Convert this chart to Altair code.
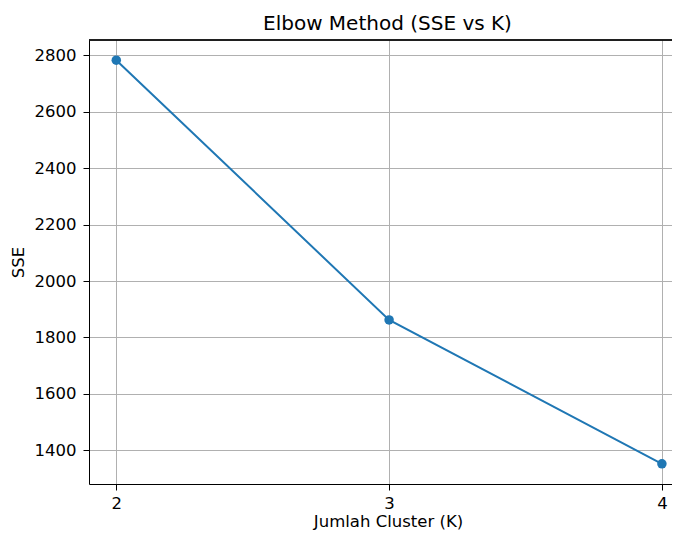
import altair as alt
import pandas as pd

k_values = [2, 3, 4]
sse_values = [2783, 1862, 1352]
x_ticks = [2, 3, 4]
y_ticks = [1400, 1600, 1800, 2000, 2200, 2400, 2600, 2800]

df = pd.DataFrame({"K": k_values, "SSE": sse_values})

W = 583
H = 444
FONT = "DejaVu Sans"
BLUE = "#1f77b4"
FS = 16.5

x_enc = alt.X(
    "K:Q",
    scale=alt.Scale(domain=[1.9, 4.037], nice=False, zero=False),
    axis=alt.Axis(
        values=x_ticks, format="d", title="Jumlah Cluster (K)", labelPadding=5,
        titleX=299, titleY=42, titleBaseline="alphabetic", titleAlign="center",
    ),
)
y_enc = alt.Y(
    "SSE:Q",
    scale=alt.Scale(domain=[1280.5, 2854.5], nice=False, zero=False),
    axis=alt.Axis(
        values=y_ticks, format="d", title="SSE", labelPadding=7,
        titleX=-71, titleY=222, titleBaseline="middle", titleAlign="center", titleAngle=270,
    ),
)

line = alt.Chart(df).mark_line(color=BLUE, strokeWidth=2).encode(x=x_enc, y=y_enc)
pts = alt.Chart(df).mark_point(color=BLUE, filled=True, opacity=1, size=90).encode(x=x_enc, y=y_enc)
top = alt.Chart(df).mark_rule(color="black", strokeWidth=1).encode(
    x=alt.value(0), x2=alt.value(W), y=alt.value(0)
)

chart = (
    alt.layer(line, pts, top)
    .properties(
        width=W,
        height=H,
        autosize=alt.AutoSizeParams(type="none"),
        padding={"left": 81, "top": 32, "right": 0, "bottom": 47},
        title=alt.TitleParams(
            "Elbow Method (SSE vs K)", font=FONT, fontSize=20, fontWeight="normal",
            color="black", anchor="start", frame="group", offset=6, dx=174,
        ),
    )
    .configure_view(stroke=None)
    .configure_axis(
        grid=True, gridColor="#b0b0b0", gridWidth=1,
        domainColor="black", domainWidth=1, tickColor="black", tickSize=6, tickWidth=1,
        labelFont=FONT, labelFontSize=FS, labelColor="black",
        titleFont=FONT, titleFontSize=FS, titleFontWeight="normal", titleColor="black",
    )
)

chart.save("out.html", embed_options={"renderer": "svg", "actions": False})
